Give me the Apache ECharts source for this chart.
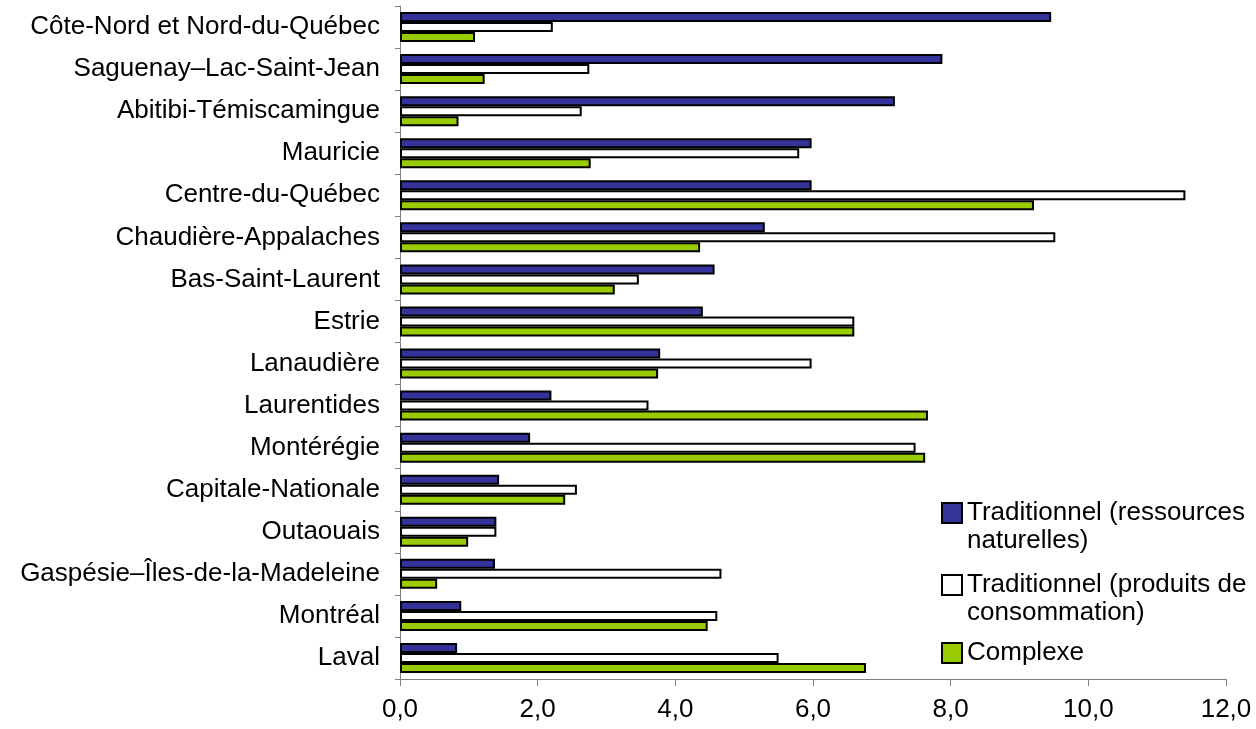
<!DOCTYPE html>
<html>
<head>
<meta charset="utf-8">
<script src="https://cdn.jsdelivr.net/npm/echarts@6/dist/echarts.min.js"></script>
<style>
html,body{margin:0;padding:0;background:#fff;}
#chart{width:1256px;height:729px;}
</style>
</head>
<body>
<div id="chart"></div>
<script>
var categories = ['Côte-Nord et Nord-du-Québec','Saguenay–Lac-Saint-Jean','Abitibi-Témiscamingue','Mauricie','Centre-du-Québec','Chaudière-Appalaches','Bas-Saint-Laurent','Estrie','Lanaudière','Laurentides','Montérégie','Capitale-Nationale','Outaouais','Gaspésie–Îles-de-la-Madeleine','Montréal','Laval'];
var seriesNames = ['Traditionnel (ressources\nnaturelles)','Traditionnel (produits de\nconsommation)','Complexe'];
var ressources = [9.46,7.88,7.19,5.98,5.98,5.30,4.57,4.40,3.78,2.20,1.89,1.44,1.40,1.38,0.89,0.83];
var consommation = [2.22,2.75,2.64,5.80,11.41,9.52,3.47,6.60,5.98,3.61,7.49,2.57,1.40,4.67,4.61,5.50];
var complexe = [1.09,1.23,0.85,2.77,9.21,4.36,3.12,6.60,3.75,7.67,7.63,2.40,0.99,0.54,4.47,6.77];

var FONT = '"Liberation Sans", Arial, sans-serif';
var chart = echarts.init(document.getElementById('chart'), null, {renderer:'canvas'});

function legendFor(name, top, twoLine){
  return {
    data:[name], orient:'vertical', left:941, top:top, padding:0,
    icon:'rect', itemWidth:20, itemHeight:20,
    formatter: function(n){ return twoLine ? '\n' + n : n; },
    textStyle:{fontFamily:FONT, fontSize:26, color:'#000', lineHeight:28}
  };
}

var colors = ['#333399','#ffffff','#99cc00'];
var datas = [ressources, consommation, complexe];

chart.setOption({
  animation:false,
  backgroundColor:'#fff',
  textStyle:{fontFamily:FONT},
  grid:{left:400, right:30, top:6, bottom:50, containLabel:false},
  legend:[legendFor(seriesNames[0],471,true), legendFor(seriesNames[1],543,true), legendFor(seriesNames[2],639,false)],
  xAxis:{
    type:'value', min:0, max:12, interval:2,
    axisLine:{show:true, lineStyle:{color:'#808080', width:1}},
    axisTick:{show:true, length:7, lineStyle:{color:'#808080'}},
    splitLine:{show:false},
    axisLabel:{fontFamily:FONT, fontSize:26, color:'#000', margin:18,
      formatter:function(v){return v.toFixed(1).replace('.',',');}}
  },
  yAxis:{
    type:'category', data:categories, inverse:true,
    axisLine:{show:true, lineStyle:{color:'#808080', width:1}},
    axisTick:{show:true, length:5, lineStyle:{color:'#808080'}},
    axisLabel:{fontFamily:FONT, fontSize:26, color:'#000', margin:20}
  },
  series: seriesNames.map(function(n,i){
    return {
      name:n, type:'bar', data:datas[i], barWidth:10, barGap:'0%',
      itemStyle:{color:colors[i], borderColor:'#000', borderWidth:2}
    };
  })
});
</script>
</body>
</html>
